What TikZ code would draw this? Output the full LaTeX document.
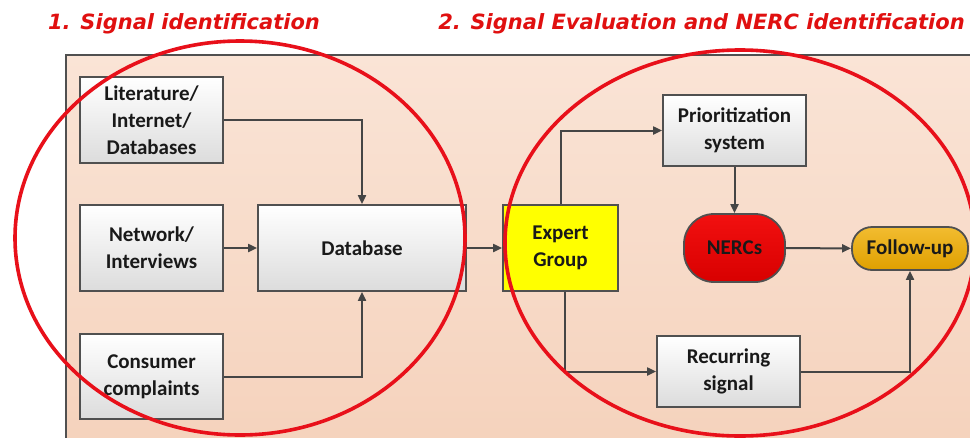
\documentclass[tikz,border=0pt]{standalone}
\usepackage{fontspec}
\setmainfont{Carlito}
\newfontfamily\headfont{DejaVu Sans}
\usetikzlibrary{arrows.meta}

\definecolor{boxline}{HTML}{505050}
\definecolor{boxgrey}{HTML}{DCDCDC}
\definecolor{paneltop}{HTML}{FAE4D6}
\definecolor{panelbot}{HTML}{F5D2BC}
\definecolor{ringred}{HTML}{E8101A}
\definecolor{headred}{HTML}{E01010}
\definecolor{arrowgrey}{HTML}{454545}
\definecolor{nerctop}{HTML}{F21010}
\definecolor{nercbot}{HTML}{D80000}
\definecolor{foltop}{HTML}{F2BC30}
\definecolor{folbot}{HTML}{DFA000}

\newcommand\boxfont{\fontsize{21}{27}\selectfont\bfseries}
\newcommand\headstyle{\headfont\fontsize{21}{24}\selectfont\bfseries\itshape}

\tikzset{
  box/.style={draw=boxline, line width=1.8pt, top color=white, bottom color=boxgrey,
    align=center, font=\boxfont, text=black!90, inner sep=0pt},
  conn/.style={draw=arrowgrey, line width=2pt,
    -{Triangle[length=9pt,width=8pt]}},
  ring/.style={draw=ringred, line width=3.6pt},
  head/.style={text=headred, font=\headstyle, inner sep=0pt}
}

\begin{document}
\begin{tikzpicture}[x=1pt,y=-1pt]
\useasboundingbox (0,0) rectangle (970,437);
\fill[white] (0,0) rectangle (970,437);

% background panel
\path[top color=paneltop, bottom color=panelbot, draw=boxline, line width=2pt]
  (66,55) rectangle (980,450);

% sources and database
\node[box, minimum width=143pt, minimum height=86pt] (lit) at (151.5,120) {Literature/\\Internet/\\Databases};
\node[box, minimum width=143pt, minimum height=86pt] (net) at (151.5,248) {Network/\\Interviews};
\node[box, minimum width=143pt, minimum height=85pt] (con) at (151.5,376.5) {Consumer\\complaints};
\node[box, minimum width=208pt, minimum height=86pt] (db) at (362,248) {Database};

% evaluation
\node[box, top color=yellow, bottom color=yellow, minimum width=115pt, minimum height=86pt] (exp) at (560.5,248) {Expert\\Group};
\node[box, minimum width=143pt, minimum height=71pt] (pri) at (734.5,130.5) {Prioritization\\system};
\node[box, top color=nerctop, bottom color=nercbot, rounded corners=30pt,
      minimum width=101pt, minimum height=68pt] (nerc) at (734.5,248) {NERCs};
\node[box, top color=foltop, bottom color=folbot, rounded corners=20pt,
      minimum width=116pt, minimum height=43pt] (fol) at (910,248.5) {Follow-up};
\node[box, minimum width=143pt, minimum height=71pt] (rec) at (728.5,371.5) {Recurring\\signal};

% connectors
\draw[conn] (lit.east) -| (db.north);
\draw[conn] (net) -- (db);
\draw[conn] (con.east) -| (db.south);
\draw[conn] (db) -- (exp);
\draw[conn] (exp.north) |- (pri.west);
\draw[conn] (pri) -- (nerc);
\draw[conn] (nerc) -- (fol);
\draw[conn] ([xshift=4pt]exp.south) |- (rec.west);
\draw[conn] (rec.east) -| (fol.south);

% phase rings
\draw[ring] (240,238) ellipse [x radius=225pt, y radius=197pt];
\draw[ring] (740,243) ellipse [x radius=235pt, y radius=193pt];

% phase headings
\node[head] (h1) at (184,23.5) {1. Signal identification};
\node[head] (h2) at (701.5,23.5) {2. Signal Evaluation and NERC identification};
\end{tikzpicture}
\end{document}
